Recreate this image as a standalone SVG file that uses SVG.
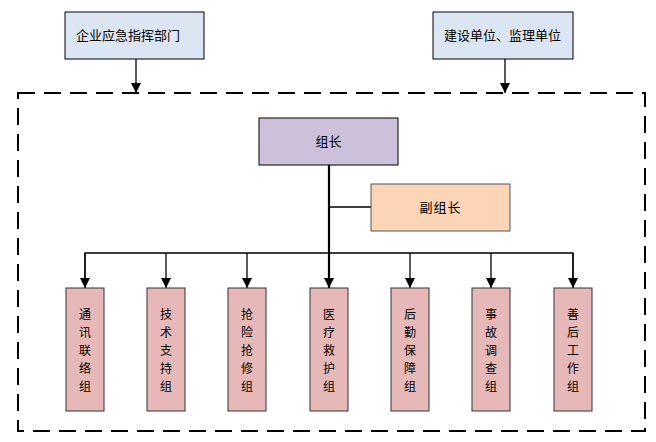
<svg xmlns="http://www.w3.org/2000/svg" width="656" height="442" viewBox="0 0 656 442">
<style>
text{font-family:"Noto Sans CJK SC","Liberation Sans",sans-serif;font-size:13px;fill:#000}
.top{fill:#dce6f2;stroke:#000;stroke-width:1}
.sub{fill:#e6b9b8;stroke:#333;stroke-width:1}
.ln{stroke:#000;stroke-width:1.3;fill:none}
.v text{text-anchor:middle;font-size:12px}
</style>
<defs>
<marker id="a" markerWidth="12" markerHeight="12" refX="10" refY="6" orient="auto" markerUnits="userSpaceOnUse" viewBox="0 0 12 12">
<path d="M0,1 L10,6 L0,11 Z" fill="#000"/>
</marker>
</defs>
<rect x="18" y="93" width="627" height="338" fill="none" stroke="#000" stroke-width="2" stroke-dasharray="17 9"/>
<g id="connectors">
<line class="ln" x1="136" y1="59" x2="136" y2="93" marker-end="url(#a)"/>
<line class="ln" x1="505" y1="59" x2="505" y2="93" marker-end="url(#a)"/>
<line x1="329" y1="165" x2="329" y2="288" stroke="#000" stroke-width="2.2" marker-end="url(#a)"/>
<line class="ln" x1="329" y1="207" x2="371" y2="207"/>
<polyline class="ln" points="85,288 85,253 573,253 573,288" stroke="#555"/>
<line class="ln" x1="85" y1="253" x2="85" y2="288" marker-end="url(#a)"/>
<line class="ln" x1="166" y1="253" x2="166" y2="288" marker-end="url(#a)"/>
<line class="ln" x1="247" y1="253" x2="247" y2="288" marker-end="url(#a)"/>
<line class="ln" x1="410" y1="253" x2="410" y2="288" marker-end="url(#a)"/>
<line class="ln" x1="491" y1="253" x2="491" y2="288" marker-end="url(#a)"/>
<line class="ln" x1="573" y1="253" x2="573" y2="288" marker-end="url(#a)"/>
</g>
<g id="n1"><rect class="top" x="65" y="12" width="139" height="47"/><text x="76" y="40">企业应急指挥部门</text></g>
<g id="n2"><rect class="top" x="433" y="12" width="140" height="47"/><text x="444" y="40">建设单位、监理单位</text></g>
<g id="n3"><rect x="259" y="118" width="139" height="47" fill="#ccc0da" stroke="#000"/><text x="328.5" y="146" text-anchor="middle">组长</text></g>
<g id="n4"><rect x="371" y="184" width="139" height="47" fill="#fbd5b5" stroke="#555"/><text x="440.5" y="212" text-anchor="middle" letter-spacing="1">副组长</text></g>
<g id="c1" class="v"><rect class="sub" x="66" y="288" width="38" height="123"/><text x="85" y="319">通</text><text x="85" y="337">讯</text><text x="85" y="355">联</text><text x="85" y="373">络</text><text x="85" y="391">组</text></g>
<g id="c2" class="v"><rect class="sub" x="147" y="288" width="38" height="123"/><text x="166" y="319">技</text><text x="166" y="337">术</text><text x="166" y="355">支</text><text x="166" y="373">持</text><text x="166" y="391">组</text></g>
<g id="c3" class="v"><rect class="sub" x="228" y="288" width="38" height="123"/><text x="247" y="319">抢</text><text x="247" y="337">险</text><text x="247" y="355">抢</text><text x="247" y="373">修</text><text x="247" y="391">组</text></g>
<g id="c4" class="v"><rect class="sub" x="310" y="288" width="38" height="123"/><text x="329" y="319">医</text><text x="329" y="337">疗</text><text x="329" y="355">救</text><text x="329" y="373">护</text><text x="329" y="391">组</text></g>
<g id="c5" class="v"><rect class="sub" x="391" y="288" width="38" height="123"/><text x="410" y="319">后</text><text x="410" y="337">勤</text><text x="410" y="355">保</text><text x="410" y="373">障</text><text x="410" y="391">组</text></g>
<g id="c6" class="v"><rect class="sub" x="472" y="288" width="38" height="123"/><text x="491" y="319">事</text><text x="491" y="337">故</text><text x="491" y="355">调</text><text x="491" y="373">查</text><text x="491" y="391">组</text></g>
<g id="c7" class="v"><rect class="sub" x="554" y="288" width="38" height="123"/><text x="573" y="319">善</text><text x="573" y="337">后</text><text x="573" y="355">工</text><text x="573" y="373">作</text><text x="573" y="391">组</text></g>
</svg>
